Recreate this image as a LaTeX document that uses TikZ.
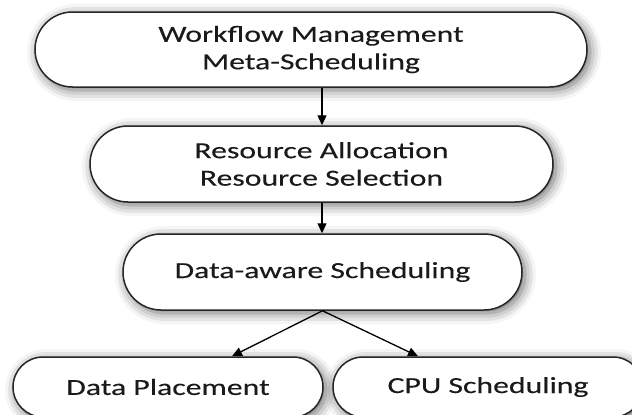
\documentclass[tikz,border=0pt]{standalone}
\usepackage{fontspec}
\setmainfont{Carlito}[FakeStretch=1.38,FakeBold=0.2]
\usetikzlibrary{shapes.misc,arrows.meta,shadows.blur,calc}
\definecolor{edge}{HTML}{262626}
\definecolor{txt}{HTML}{1A1A1A}
\tikzset{
  box/.style={rounded rectangle, draw=edge, line width=1.5pt, fill=white, inner sep=0pt,
    align=center, text=txt, font=\fontsize{23}{27.5}\selectfont,
    blur shadow={shadow xshift=3pt, shadow yshift=-3pt, shadow blur radius=11pt, shadow opacity=60}},
  arr/.style={draw=black, line width=1.3pt, -{Triangle[length=10pt,width=9pt]}}
}
\begin{document}
\begin{tikzpicture}[x=1pt,y=1pt]
\useasboundingbox (0,0) rectangle (632,-415);
\clip (0,0) rectangle (632,-415);
\node[box, minimum width=552pt, minimum height=75pt] (wf) at (311,-49.5) {Workflow Management\\Meta-Scheduling};
\node[box, minimum width=463pt, minimum height=76pt] (ra) at (321.5,-164) {Resource Allocation\\Resource Selection};
\node[box, minimum width=399pt, minimum height=76pt] (da) at (322.5,-272) {Data-aware Scheduling};
\node[box, minimum width=310pt, minimum height=60pt] (dp) at (168,-387) {Data Placement};
\node[box, minimum width=310pt, minimum height=60pt] (cpu) at (488,-387) {CPU Scheduling};
\draw[arr] (wf.south -| 322,0) -- (ra.north -| 322,0);
\draw[arr] (ra.south -| 322,0) -- (da.north -| 322,0);
\draw[arr] (da.south) -- ([xshift=64pt]dp.north);
\draw[arr] (da.south) -- ([xshift=-70pt]cpu.north);
\end{tikzpicture}
\end{document}
